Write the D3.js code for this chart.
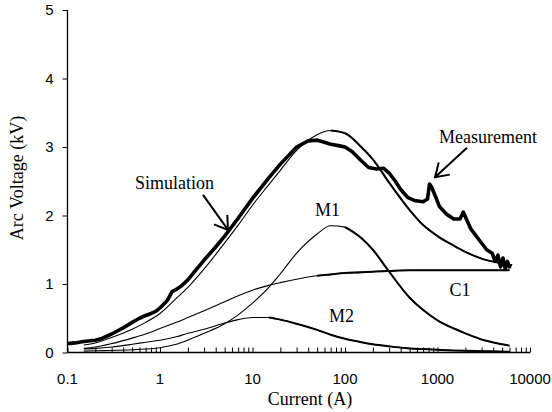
<!DOCTYPE html>
<html>
<head>
<meta charset="utf-8">
<script src="https://cdn.jsdelivr.net/npm/d3@7"></script>
<style>
  body { margin: 0; background: #fff; }
  svg { display: block; }
</style>
</head>
<body>
<div id="chart"></div>
<script>
// currents (A) for the model curves
var modelCurrent = [0.15, 0.2, 0.3, 0.5, 0.7, 1, 1.5, 2, 3, 5, 7, 10, 15, 20, 30, 50, 70, 100,
                    150, 200, 300, 500, 700, 1000, 1500, 2000, 3000, 5000, 6000];
var simulation = [0.11, 0.14, 0.22, 0.34, 0.44, 0.57, 0.79, 0.95, 1.22, 1.6, 1.86, 2.15, 2.45, 2.66, 2.95, 3.18, 3.24, 3.2,
                  3.0, 2.82, 2.48, 2.08, 1.86, 1.7, 1.56, 1.47, 1.37, 1.3, 1.28];
var m1 = [0.02, 0.025, 0.03, 0.04, 0.05, 0.07, 0.12, 0.18, 0.28, 0.42, 0.55, 0.72, 0.95, 1.15, 1.45, 1.73, 1.85, 1.83,
          1.67, 1.5, 1.18, 0.8, 0.62, 0.47, 0.35, 0.28, 0.19, 0.12, 0.1];
var m2 = [0.05, 0.06, 0.08, 0.12, 0.15, 0.18, 0.23, 0.28, 0.34, 0.43, 0.48, 0.51, 0.51, 0.48, 0.42, 0.33, 0.26, 0.2,
          0.15, 0.12, 0.09, 0.06, 0.05, 0.04, 0.03, 0.025, 0.02, 0.015, 0.01];
var c1 = [0.06, 0.08, 0.13, 0.21, 0.27, 0.35, 0.44, 0.51, 0.61, 0.74, 0.83, 0.91, 0.98, 1.02, 1.07, 1.12, 1.14, 1.16,
          1.17, 1.18, 1.19, 1.2, 1.2, 1.2, 1.2, 1.2, 1.2, 1.2, 1.2];

// measured arc voltage
var measCurrent = [0.1, 0.12, 0.15, 0.2, 0.23, 0.3, 0.4, 0.5, 0.6, 0.7, 0.8, 0.9, 1, 1.2, 1.35, 1.5, 1.7, 2, 2.5, 3,
                   4, 5, 7, 10, 15, 20, 30, 40, 50, 60, 70, 85, 100, 120, 150, 180, 220, 260, 300, 350, 400, 480,
                   560, 700, 780, 820, 860, 950, 1050, 1250, 1500, 1750, 1900, 2050, 2300, 2800, 3400, 3900,
                   4200, 4500, 4800, 5100, 5400, 5700, 6000, 6200];
var measVoltage = [0.13, 0.14, 0.16, 0.18, 0.2, 0.27, 0.36, 0.44, 0.5, 0.54, 0.57, 0.6, 0.65, 0.76, 0.89, 0.92, 0.97, 1.06, 1.22, 1.35,
                   1.54, 1.7, 1.96, 2.25, 2.55, 2.75, 3.0, 3.09, 3.1, 3.07, 3.04, 3.02, 3.0, 2.93, 2.8, 2.7, 2.68, 2.69, 2.62, 2.5, 2.38, 2.26,
                   2.22, 2.2, 2.24, 2.46, 2.42, 2.28, 2.13, 2.02, 1.95, 1.95, 2.05, 1.95, 1.8, 1.65, 1.5, 1.45,
                   1.33, 1.42, 1.25, 1.38, 1.22, 1.33, 1.25, 1.3];

var xTicks = [0.1, 1, 10, 100, 1000, 10000];
var xTickLabels = ["0.1", "1", "10", "100", "1000", "10000"];
var yTicks = [0, 1, 2, 3, 4, 5];

var width = 552, height = 412;
var serif = "'Liberation Serif', 'Times New Roman', serif";
var sans = "'Liberation Sans', Arial, sans-serif";

var svg = d3.select("#chart")
  .append("svg")
    .attr("width", width)
    .attr("height", height);

var x = d3.scaleLog()
    .domain([0.1, 10000])
    .range([67.5, 530]);

var y = d3.scaleLinear()
    .domain([0, 5])
    .range([352.5, 10]);

// x axis, ticks point up into the plot
var minorTicks = [];
xTicks.slice(0, -1).forEach(function(t) {
  for (var k = 1; k < 10; k++) minorTicks.push(t * k);
});
minorTicks.push(10000);

var xAxis = svg.append("g")
    .attr("transform", "translate(0," + y(0) + ")")
    .call(d3.axisBottom(x).tickValues(minorTicks).tickSize(-5).tickFormat(""));
xAxis.select(".domain").attr("d", "M" + x(0.1) + ",0H" + x(10000)).attr("stroke-width", 1.3);
xAxis.selectAll(".tick line").attr("stroke-width", 1);

svg.append("g")
  .selectAll("text")
  .data(xTicks)
  .enter()
  .append("text")
    .attr("x", function(d) { return x(d); })
    .attr("y", y(0) + 31)
    .attr("text-anchor", "middle")
    .attr("font-family", sans)
    .attr("font-size", 15)
    .text(function(d, i) { return xTickLabels[i]; });

// y axis
var yAxis = svg.append("g")
    .attr("transform", "translate(" + x(0.1) + ",0)")
    .call(d3.axisLeft(y).tickValues(yTicks).tickSize(5).tickPadding(9).tickFormat(d3.format("d")));
yAxis.select(".domain").attr("d", "M0," + y(5) + "V" + y(0)).attr("stroke-width", 1.3);
yAxis.selectAll(".tick line").attr("stroke-width", 1);
yAxis.selectAll(".tick text")
    .attr("font-family", sans)
    .attr("font-size", 15)
    .attr("fill", "#000");

// axis titles
svg.append("text")
    .attr("x", 310)
    .attr("y", 405)
    .attr("text-anchor", "middle")
    .attr("font-family", serif)
    .attr("font-size", 18)
    .text("Current (A)");

svg.append("text")
    .attr("transform", "translate(23," + 178 + ") rotate(-90)")
    .attr("text-anchor", "middle")
    .attr("font-family", serif)
    .attr("font-size", 18)
    .text("Arc Voltage (kV)");

// model curves, thin on the rising side, heavier on the tail
var smooth = d3.line()
    .x(function(d) { return x(d[0]); })
    .y(function(d) { return y(d[1]); })
    .curve(d3.curveMonotoneX);

var models = [
  {values: c1, from: 50},
  {values: m2, from: 12},
  {values: m1, from: 80},
  {values: simulation, from: 60}
];

models.forEach(function(m) {
  var pts = modelCurrent.map(function(c, i) { return [c, m.values[i]]; });
  svg.append("path")
      .attr("d", smooth(pts))
      .attr("fill", "none")
      .attr("stroke", "#000")
      .attr("stroke-width", 1.1);
  svg.append("path")
      .attr("d", smooth(pts.filter(function(p) { return p[0] >= m.from; })))
      .attr("fill", "none")
      .attr("stroke", "#000")
      .attr("stroke-width", 2);
});

// measurement
var jagged = d3.line()
    .x(function(d) { return x(d[0]); })
    .y(function(d) { return y(d[1]); });

svg.append("path")
    .attr("d", jagged(measCurrent.map(function(c, i) { return [c, measVoltage[i]]; })))
    .attr("fill", "none")
    .attr("stroke", "#000")
    .attr("stroke-width", 3.6)
    .attr("stroke-linejoin", "round");

// labels and arrows
var labels = [
  {text: "Simulation", at: [0.537, 2.39], anchor: "start"},
  {text: "Measurement", at: [1038, 3.06], anchor: "start"},
  {text: "M1", at: [64.7, 2.0], anchor: "middle"},
  {text: "M2", at: [91.6, 0.45], anchor: "middle"},
  {text: "C1", at: [1750, 0.82], anchor: "middle"}
];

svg.append("g")
  .selectAll("text")
  .data(labels)
  .enter()
  .append("text")
    .attr("x", function(d) { return x(d.at[0]); })
    .attr("y", function(d) { return y(d.at[1]); })
    .attr("text-anchor", function(d) { return d.anchor; })
    .attr("font-family", serif)
    .attr("font-size", 18)
    .text(function(d) { return d.text; });

var arrows = [
  {from: [2.92, 2.30], to: [5.43, 1.79]},
  {from: [2085, 2.99], to: [940, 2.56]}
];

arrows.forEach(function(a) {
  var x0 = x(a.from[0]), y0 = y(a.from[1]), x1 = x(a.to[0]), y1 = y(a.to[1]);
  var ang = Math.atan2(y0 - y1, x0 - x1), len = 15, spread = 33 * Math.PI / 180;
  var path = d3.path();
  path.moveTo(x0, y0);
  path.lineTo(x1, y1);
  path.moveTo(x1 + len * Math.cos(ang - spread), y1 + len * Math.sin(ang - spread));
  path.lineTo(x1, y1);
  path.lineTo(x1 + len * Math.cos(ang + spread), y1 + len * Math.sin(ang + spread));
  svg.append("path")
      .attr("d", path.toString())
      .attr("fill", "none")
      .attr("stroke", "#000")
      .attr("stroke-width", 2);
});
</script>
</body>
</html>
